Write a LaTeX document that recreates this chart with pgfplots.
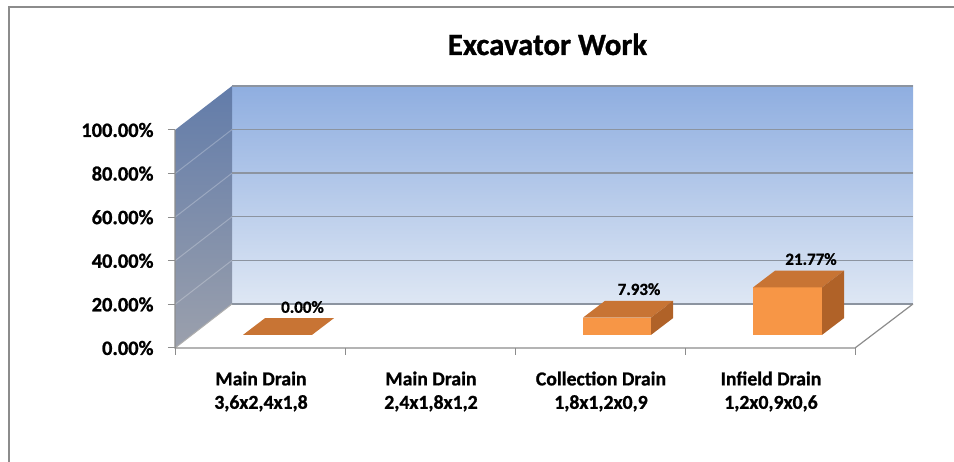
\documentclass[border=0pt]{standalone}
\usepackage{pgfplots}
\pgfplotsset{compat=1.18}
\usepackage{fontspec}
\setmainfont{Carlito}[BoldFeatures={FakeBold=1}]
\definecolor{wallTop}{RGB}{143,174,224}
\definecolor{wallBot}{RGB}{222,231,244}
\definecolor{sideTop}{RGB}{98,124,170}
\definecolor{sideBot}{RGB}{155,160,172}
\definecolor{gridc}{RGB}{140,148,160}
\definecolor{barFront}{RGB}{247,150,70}
\definecolor{barTop}{RGB}{200,116,52}
\definecolor{barSide}{RGB}{176,98,40}
\definecolor{framec}{RGB}{140,140,140}
\begin{document}
\begin{tikzpicture}
\begin{axis}[
  scale only axis,
  width=738bp, height=262.04bp,
  xmin=175, xmax=913, ymin=0, ymax=120.2,
  clip=false,
  axis line style={draw=none},
  tick pos=left, tick align=outside,
  major tick length=7bp,
  tick style={framec, line width=1bp},
  xtick={175,345,515,685,855},
  x tick label as interval,
  xticklabels={{Main Drain\\3,6x2,4x1,8},{Main Drain\\2,4x1,8x1,2},{Collection Drain\\1,8x1,2x0,9},{Infield Drain\\1,2x0,9x0,6}},
  xticklabel style={align=center, font=\bfseries\fontsize{19.8}{23.5}\selectfont, yshift=-13bp, xshift=1bp},
  ytick={0,20,40,60,80,100},
  yticklabels={0.00\%,20.00\%,40.00\%,60.00\%,80.00\%,100.00\%},
  yticklabel style={font=\bfseries\fontsize{20.5}{24}\selectfont, xshift=-11bp},
]
% outer chart frame
\addplot[framec, line width=1.2bp, forget plot] coordinates {(9,-52.29) (9,156.42) (954,156.42)};
% back wall
\addplot[draw=none, top color=wallTop, bottom color=wallBot, forget plot] coordinates {(232,20.2) (913,20.2) (913,120.2) (232,120.2)} -- cycle;
% left wall
\addplot[draw=none, top color=sideTop, bottom color=sideBot, forget plot] coordinates {(175,0) (232,20.2) (232,120.2) (175,100)} -- cycle;
% side wall faint gridlines
\addplot[white, opacity=0.25, line width=1bp, forget plot] coordinates {(175,20) (232,40.2)};
\addplot[white, opacity=0.25, line width=1bp, forget plot] coordinates {(175,40) (232,60.2)};
\addplot[white, opacity=0.25, line width=1bp, forget plot] coordinates {(175,60) (232,80.2)};
\addplot[white, opacity=0.25, line width=1bp, forget plot] coordinates {(175,80) (232,100.2)};
% back wall gridlines
\addplot[gridc, line width=1.4bp, forget plot] coordinates {(232,20.2) (913,20.2)};
\addplot[gridc, line width=1.4bp, forget plot] coordinates {(232,40.2) (913,40.2)};
\addplot[gridc, line width=1.4bp, forget plot] coordinates {(232,60.2) (913,60.2)};
\addplot[gridc, line width=1.4bp, forget plot] coordinates {(232,80.2) (913,80.2)};
\addplot[gridc, line width=1.4bp, forget plot] coordinates {(232,100.2) (913,100.2)};
\addplot[gridc, line width=1.4bp, forget plot] coordinates {(232,120.2) (913,120.2)};
% floor edges and axis lines
\addplot[framec!70, line width=1bp, forget plot] coordinates {(175,0) (232,20.2)};
\addplot[framec, line width=1.2bp, forget plot] coordinates {(175,100) (175,0) (855,0) (913,20.2)};
% bar 1 : 0.00 %
\addplot[fill=barTop, draw=none, forget plot] coordinates {(243,6) (312,6) (334,13.7) (265,13.7)} -- cycle;
% bar 3 : 7.93 %
\addplot[fill=barFront, draw=none, forget plot] coordinates {(583,6) (651,6) (651,13.93) (583,13.93)} -- cycle;
\addplot[fill=barTop, draw=none, forget plot] coordinates {(583,13.93) (651,13.93) (673,21.63) (605,21.63)} -- cycle;
\addplot[fill=barSide, draw=none, forget plot] coordinates {(651,6) (673,13.7) (673,21.63) (651,13.93)} -- cycle;
% bar 4 : 21.77 %
\addplot[fill=barFront, draw=none, forget plot] coordinates {(753,6) (822,6) (822,27.77) (753,27.77)} -- cycle;
\addplot[fill=barTop, draw=none, forget plot] coordinates {(753,27.77) (822,27.77) (844,35.47) (775,35.47)} -- cycle;
\addplot[fill=barSide, draw=none, forget plot] coordinates {(822,6) (844,13.7) (844,35.47) (822,27.77)} -- cycle;
% data labels
\node[font=\bfseries\fontsize{17}{20}\selectfont] at (axis cs:302.5,18.8) {0.00\%};
\node[font=\bfseries\fontsize{17}{20}\selectfont] at (axis cs:639,27) {7.93\%};
\node[font=\bfseries\fontsize{17}{20}\selectfont] at (axis cs:811,40.8) {21.77\%};
% title
\node[anchor=base, font=\bfseries\fontsize{31}{36}\selectfont] at (axis cs:547.5,134.4) {Excavator Work};
\coordinate (BL) at (axis cs:0,-52.29);
\coordinate (TR) at (axis cs:954,159.63);
\end{axis}
\pgfresetboundingbox
\path (BL) rectangle (TR);
\end{tikzpicture}
\end{document}
